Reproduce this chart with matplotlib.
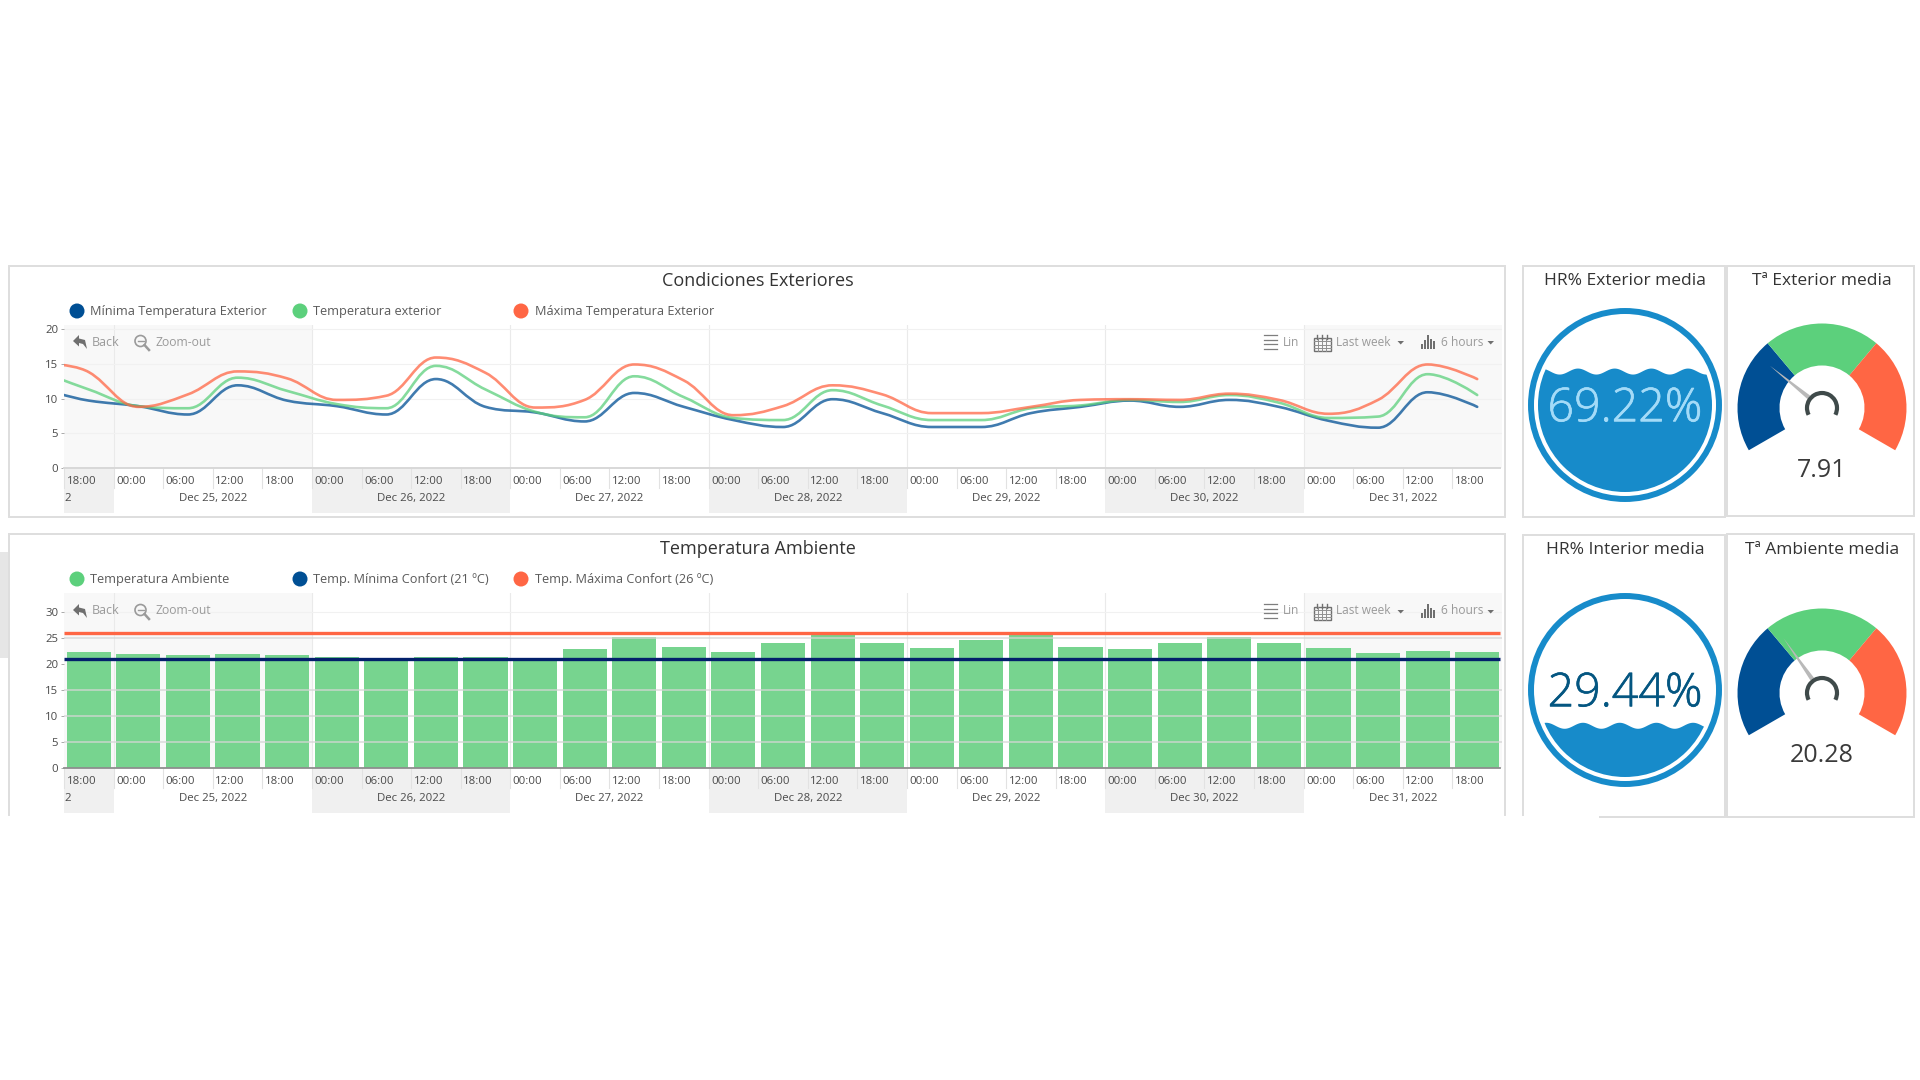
import numpy as np
import matplotlib
matplotlib.use("Agg")
import matplotlib.pyplot as plt
import matplotlib.patheffects as pe
from matplotlib.patches import Rectangle, Circle, Wedge, Polygon, Ellipse, Arc, PathPatch
from matplotlib.path import Path

plt.rcParams['font.family'] = ['Open Sans', 'DejaVu Sans']

BLUE = '#004F94'
GREEN = '#5CD07C'
RED = '#FF6644'
NAVY = '#03206B'
WATER = '#178BCA'
BORDER = '#DEDEDE'
TOOL = '#9A9A9A'
TEXT = '#4A4A4A'

# six hour buckets, Dec 24 18:00 to Dec 31 18:00
hour_labels = ['18:00'] + ['00:00', '06:00', '12:00', '18:00'] * 7
day_labels = ['Dec 25, 2022', 'Dec 26, 2022', 'Dec 27, 2022', 'Dec 28, 2022',
              'Dec 29, 2022', 'Dec 30, 2022', 'Dec 31, 2022']

# outside temperatures, first value sits on the left edge of the plot
temp_min = [10.5, 9.7, 8.9, 7.7, 11.9, 9.7, 8.9, 7.7, 12.8, 8.8, 8.0, 6.7, 10.8, 8.8, 6.9,
            5.9, 9.9, 7.9, 5.9, 5.9, 7.9, 8.8, 9.7, 8.8, 9.8, 8.8, 6.8, 5.8, 10.9, 8.8]
temp_mid = [12.6, 11.3, 8.9, 8.6, 13.0, 11.1, 9.2, 8.6, 14.7, 11.3, 8.1, 7.3, 13.2, 10.2, 7.2,
            6.9, 11.2, 9.0, 6.9, 6.9, 8.6, 9.0, 9.8, 9.5, 10.5, 9.4, 7.2, 7.4, 13.5, 10.5]
temp_max = [14.8, 13.8, 8.8, 10.6, 13.9, 12.9, 9.8, 10.4, 15.9, 13.7, 8.7, 9.8, 14.9, 12.6, 7.6,
            8.9, 11.9, 10.6, 7.9, 7.9, 8.8, 9.8, 9.9, 9.8, 10.7, 9.8, 7.8, 9.8, 14.9, 12.8]

# room temperature per bucket and the comfort limits
temp_room = [22.4, 21.9, 21.7, 21.9, 21.7, 21.3, 21.2, 21.3, 21.3, 20.7, 22.9, 25.2, 23.3, 22.4, 24.1,
             25.6, 24.1, 23.1, 24.7, 25.6, 23.3, 22.8, 24.1, 25.2, 24.1, 23.1, 22.2, 22.5, 22.4]
comfort_min = 21
comfort_max = 26

hum_exterior = 69.22
hum_interior = 29.44
gauge_exterior = 7.91
gauge_ambient = 20.28
gauge_exterior_max = 27.5
gauge_ambient_max = 57.3


def spline_path(x, y):
    # same smoothing the dashboard spline series use
    n = len(x)
    left = np.array(y, dtype=float)
    right = np.array(y, dtype=float)
    lx = np.array(x, dtype=float)
    rx = np.array(x, dtype=float)
    for i in range(1, n - 1):
        lx[i] = (1.5 * x[i] + x[i - 1]) / 2.5
        rx[i] = (1.5 * x[i] + x[i + 1]) / 2.5
        ly = (1.5 * y[i] + y[i - 1]) / 2.5
        ry = (1.5 * y[i] + y[i + 1]) / 2.5
        corr = (ry - ly) * (rx[i] - x[i]) / (rx[i] - lx[i]) + y[i] - ry
        ly += corr
        ry += corr
        if ly > max(y[i - 1], y[i]) or ly < min(y[i - 1], y[i]):
            ly = max(y[i - 1], y[i]) if ly > y[i] else min(y[i - 1], y[i])
            ry = 2 * y[i] - ly
        if ry > max(y[i + 1], y[i]) or ry < min(y[i + 1], y[i]):
            ry = max(y[i + 1], y[i]) if ry > y[i] else min(y[i + 1], y[i])
            ly = 2 * y[i] - ry
        left[i] = ly
        right[i] = ry
    verts = [(x[0], y[0])]
    codes = [Path.MOVETO]
    for i in range(1, n):
        verts += [(rx[i - 1], right[i - 1]), (lx[i], left[i]), (x[i], y[i])]
        codes += [Path.CURVE4] * 3
    return Path(verts, codes)


fig = plt.figure(figsize=(19.2, 10.8), dpi=100, facecolor='white')

W, H = 1920, 1080


def px_axes(z):
    a = fig.add_axes([0, 0, 1, 1], zorder=z)
    a.set_xlim(0, W)
    a.set_ylim(H, 0)
    a.axis('off')
    a.patch.set_alpha(0)
    return a


back = px_axes(0)
top = px_axes(5)


def panel(x0, y0, x1, y1):
    back.add_patch(Rectangle((x0, y0), x1 - x0, y1 - y0, fc='white', ec=BORDER, lw=1.4))


back.add_patch(Rectangle((0, 552), 8, 106, fc='#E6E6E6', ec='none'))
panel(9, 266, 1505, 517)
panel(1523, 266, 1725, 517)
panel(1727, 266, 1914, 516)
panel(1523, 535, 1725, 817)
panel(1727, 534, 1914, 817)
# the lower edge of this row is cut off in the dashboard capture
back.plot([9, 9], [534, 815], color=BORDER, lw=1.4)
back.plot([9, 1505], [534, 534], color=BORDER, lw=1.4)
back.plot([1505, 1505], [534, 815], color=BORDER, lw=1.4)
back.add_patch(Rectangle((1521, 815.5), 78, 5, fc='white', ec='none', zorder=3))


def chart_axes(y_top, y_zero, ymax, yticks):
    ax = fig.add_axes([64 / W, 1 - y_zero / H, (1502 - 64) / W, (y_zero - y_top) / H], zorder=2)
    ax.patch.set_alpha(0)
    ax.set_xlim(0, 29)
    ax.set_ylim(0, ymax)
    for s in ax.spines.values():
        s.set_visible(False)
    ax.set_xticks([])
    ax.set_yticks(yticks)
    ax.tick_params(axis='y', length=2.2, width=0.7, color='#AAAAAA', pad=2, labelsize=8.2, labelcolor=TEXT)
    frac = 45 / (y_zero - y_top)
    tick_frac = 20 / (y_zero - y_top)
    # light bands in the plot, grey day bands under it
    ax.axvspan(0, 5, color='#F8F8F8', lw=0, zorder=0)
    ax.axvspan(25, 29, color='#F8F8F8', lw=0, zorder=0)
    for start, end in [(0, 1), (5, 9), (13, 17), (21, 25)]:
        ax.axvspan(start, end, ymin=-frac, ymax=0, color='#F0F0F0', lw=0, clip_on=False, zorder=0)
    for d in range(1, 26, 4):
        ax.axvline(d, color='#EAEAEA', lw=0.8, zorder=1)
    xform = ax.get_xaxis_transform()
    for i, lab in enumerate(hour_labels):
        ax.plot([i, i], [0, -tick_frac], color='#E2E2E2', lw=0.8, clip_on=False, transform=xform, zorder=1)
        ax.annotate(lab, xy=(i, 0), xycoords=xform, xytext=(1.8, -9.6), textcoords='offset points',
                    fontsize=8.2, color=TEXT, va='center', ha='left', annotation_clip=False)
    ax.annotate('2', xy=(0, 0), xycoords=xform, xytext=(0.6, -21.9), textcoords='offset points',
                fontsize=8.2, color=TEXT, va='center', ha='left', annotation_clip=False)
    for k, lab in enumerate(day_labels):
        ax.annotate(lab, xy=(3 + 4 * k, 0), xycoords=xform, xytext=(0, -21.9), textcoords='offset points',
                    fontsize=8.2, color=TEXT, va='center', ha='center', annotation_clip=False)
    return ax


def legend_row(y, names, colors):
    for mx, tx, name, col in zip([77, 300, 521], [90.5, 313, 535], names, colors):
        top.add_patch(Ellipse((mx, y), 15, 15, fc=col, ec='none'))
        top.text(tx, y, name, fontsize=9.2, color='#5A5A5A', va='center', ha='left')


def toolbar(y):
    c = TOOL
    # back arrow
    top.add_patch(Polygon([(73, y - 1), (79, y - 7), (79, y - 3.5), (85, y - 2), (87, y + 7), (83, y + 2), (79, y + 1), (79, y + 4.5)],
                          fc='#6F6F6F', ec='none'))
    top.text(92, y, 'Back', fontsize=9, color=c, va='center', ha='left')
    # magnifier
    top.add_patch(Circle((140.5, y - 1), 5.5, fc='none', ec=c, lw=1.2))
    top.plot([137.5, 143.5], [y - 1, y - 1], color=c, lw=1)
    top.plot([144.5, 149], [y + 3, y + 8], color=c, lw=1.8)
    top.text(156, y, 'Zoom-out', fontsize=8.7, color=c, va='center', ha='left')
    # list
    for k in range(4):
        dy = -7 + k * 4.6
        top.plot([1268, 1277], [y + dy, y + dy], color='#7E7E7E', lw=0.9)
        top.plot([1264, 1266.5], [y + dy, y + dy], color='#7E7E7E', lw=0.9)
    top.text(1283, y, 'Lin', fontsize=8.6, color=c, va='center', ha='left')
    # calendar
    top.add_patch(Rectangle((1314, y - 4), 16.5, 13, fc='none', ec='#707070', lw=1))
    for k in range(1, 4):
        top.plot([1314 + k * 4.1] * 2, [y - 4, y + 9], color='#909090', lw=0.7)
        top.plot([1314, 1330.5], [y - 4 + k * 3.3] * 2, color='#909090', lw=0.7)
    for gx in [1317, 1322, 1327]:
        top.plot([gx, gx], [y - 7, y - 3], color='#707070', lw=1)
    top.text(1336, y, 'Last week', fontsize=8.6, color=c, va='center', ha='left')
    top.add_patch(Polygon([(1397.5, y - 1), (1404, y - 1), (1400.7, y + 2.5)], fc='#6F6F6F', ec='none'))
    # bars
    for bx, h in zip([1422, 1425, 1428, 1431, 1434], [5, 9, 14, 10, 8]):
        top.add_patch(Rectangle((bx - 0.9, y + 7 - h), 1.9, h, fc='#707070', ec='none'))
    top.text(1441, y, '6 hours', fontsize=8.6, color=c, va='center', ha='left')
    top.add_patch(Polygon([(1487.5, y - 1), (1494, y - 1), (1490.7, y + 2.5)], fc='#6F6F6F', ec='none'))


def liquid(cx, cy, value, phase_x):
    R = 87
    top.add_patch(Circle((cx, cy), 94, fc='none', ec=WATER, lw=4.3))
    level = cy + R - 2 * R * value / 100
    wx = np.linspace(cx - R - 2, cx + R + 2, 300)
    wy = level - 3 * np.cos(2 * np.pi * (wx - phase_x) / 36.7)
    water = Polygon(np.r_[np.c_[wx, wy], [[cx + R + 2, cy + R + 2], [cx - R - 2, cy + R + 2]]], fc=WATER, ec='none')
    clip = Circle((cx, cy), R, transform=top.transData)
    top.add_patch(water)
    water.set_clip_path(clip)
    label = '%.2f%%' % value
    # pale on the water, dark on the empty part
    col = '#A4DBF8' if value > 50 else '#045681'
    txt = top.text(cx, cy + 4, label, fontsize=33.5, color=col, ha='center', va='center', fontweight='light')
    txt.set_path_effects([pe.withStroke(linewidth=0.5, foreground=col)])


def gauge(cx, cy, value, vmax):
    for a0, a1, col in [(210, 130, BLUE), (130, 50, GREEN), (50, -30, RED)]:
        top.add_patch(Wedge((cx, cy), 84.5, -a0, -a1, width=42, fc=col, ec='none'))
    ang = np.radians(210 - 240 * value / vmax)
    ux, uy = np.cos(ang), -np.sin(ang)
    nx, ny = -uy, ux
    tip = (cx + 67 * ux, cy + 67 * uy)
    base = (cx + 17 * ux, cy + 17 * uy)
    top.add_patch(Polygon([tip, (base[0] + 2.2 * nx, base[1] + 2.2 * ny), (base[0] - 2.2 * nx, base[1] - 2.2 * ny)],
                          fc='#B9B9B9', ec='none'))
    top.add_patch(Arc((cx, cy), 30, 30, theta1=-207, theta2=27, ec='#3F4A4A', lw=3))
    top.text(cx, cy + 62.5, '%.2f' % value, fontsize=18, color='#3A3A3A', ha='center', va='center')


# outside conditions
ax1 = chart_axes(325, 468, 20.58, [0, 5, 10, 15, 20])
for v in [5, 10, 15, 20]:
    ax1.axhline(v, color='#F1F1F1', lw=0.8, zorder=1)
ax1.plot([0, 28.96], [0, 0], color='#D8D8D8', lw=1.4, clip_on=False, zorder=2)
line_x = np.r_[0, np.arange(29) + 0.5]
for series, col in [(temp_min, BLUE), (temp_mid, GREEN), (temp_max, RED)]:
    ax1.add_patch(PathPatch(spline_path(line_x, np.array(series)), fc='none', ec=col, lw=1.9, alpha=0.75,
                            zorder=3, capstyle='round'))

# room temperature
ax2 = chart_axes(593, 768, 33.65, [0, 5, 10, 15, 20, 25, 30])
ax2.axhline(30, color='#F1F1F1', lw=0.8, zorder=1)
ax2.bar(np.arange(29) + 0.5, temp_room, width=0.89, color='#77D48F', lw=0, zorder=2)
for v in [5, 10, 15, 25]:
    ax2.axhline(v, color='#D6D6D6', lw=1.1, alpha=0.85, zorder=3)
ax2.plot([0, 28.96], [0, 0], color='#8E8E8E', lw=1.3, clip_on=False, zorder=4)
ax2.plot([0, 28.96], [comfort_max, comfort_max], color=RED, lw=2.4, zorder=4, solid_capstyle='butt')
ax2.plot([0, 28.96], [comfort_min, comfort_min], color=NAVY, lw=2.4, zorder=4, solid_capstyle='butt')

top.text(758, 281.5, 'Condiciones Exteriores', fontsize=13, color='#333333', ha='center', va='center')
top.text(758, 549.5, 'Temperatura Ambiente', fontsize=13, color='#333333', ha='center', va='center')
legend_row(311, ['Mínima Temperatura Exterior', 'Temperatura exterior', 'Máxima Temperatura Exterior'], [BLUE, GREEN, RED])
legend_row(579, ['Temperatura Ambiente', 'Temp. Mínima Confort (21 ºC)', 'Temp. Máxima Confort (26 ºC)'], [GREEN, BLUE, RED])
toolbar(342)
toolbar(611)

top.text(1625, 281, 'HR% Exterior media', fontsize=12.5, color='#333333', ha='center', va='center')
top.text(1822, 281, 'Tª Exterior media', fontsize=12.5, color='#333333', ha='center', va='center')
top.text(1625, 549.5, 'HR% Interior media', fontsize=12.5, color='#333333', ha='center', va='center')
top.text(1822, 549.5, 'Tª Ambiente media', fontsize=12.5, color='#333333', ha='center', va='center')

liquid(1625, 405, hum_exterior, 1578)
liquid(1625, 690, hum_interior, 1583)
gauge(1822, 408, gauge_exterior, gauge_exterior_max)
gauge(1822, 693, gauge_ambient, gauge_ambient_max)

fig.savefig('out.png', dpi=100, facecolor='white')
